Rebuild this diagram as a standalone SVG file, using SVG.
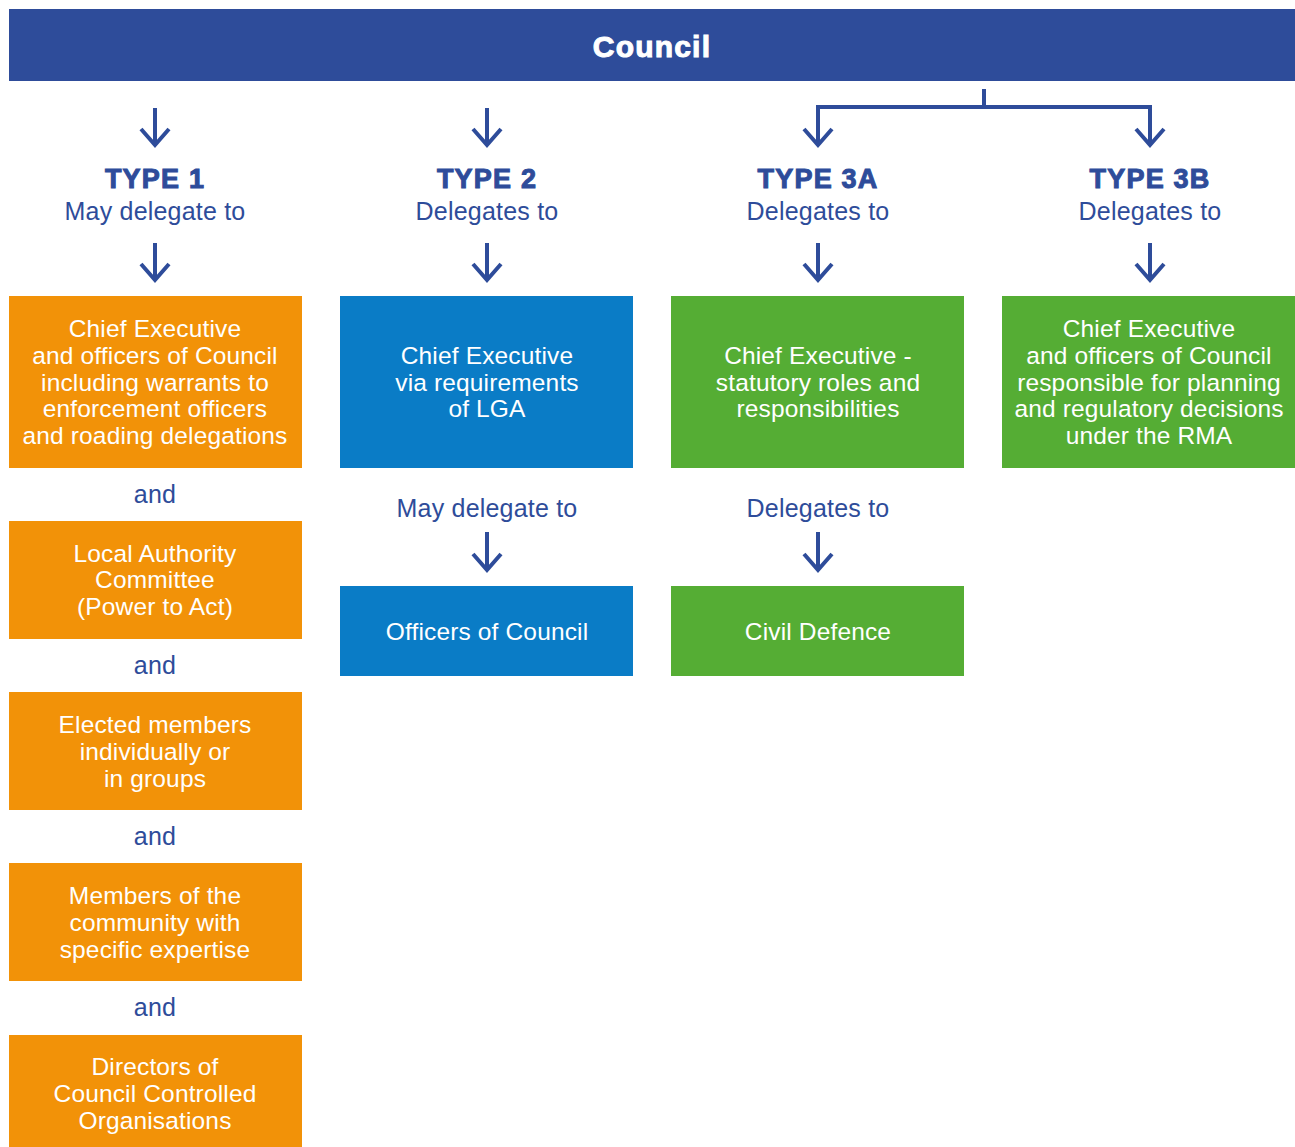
<svg xmlns="http://www.w3.org/2000/svg" width="1295" height="1147" viewBox="0 0 1295 1147">
<style>
.lbl{font-family:"Liberation Sans",Arial,sans-serif;font-size:25px;letter-spacing:0.2px;fill:#2E4C9A;text-anchor:middle}
.typ{font-family:"Liberation Sans",Arial,sans-serif;font-size:27px;font-weight:900;fill:#2E4C9A;stroke:#2E4C9A;stroke-width:1;text-anchor:middle;letter-spacing:1.2px}
.bt{font-family:"Liberation Sans",Arial,sans-serif;font-size:24.5px;letter-spacing:0.15px;fill:#FFFFFF;text-anchor:middle}
.or{fill:#F29208}.bl{fill:#0A7CC6}.gr{fill:#55AD34}
.ln{fill:none;stroke:#2E4C9A;stroke-width:4;stroke-linejoin:miter}
</style>
<defs>
<path id="head" d="M-14,-16 L0,0 L14,-16" class="ln"/>
</defs>
<rect width="1295" height="1147" fill="#FFFFFF"/>
<g id="council">
<rect x="9" y="9" width="1286" height="72" fill="#2E4C9A"/>
<text x="652" y="57" style="font-family:'Liberation Sans',Arial,sans-serif;font-size:30px;font-weight:900;fill:#FFFFFF;stroke:#FFFFFF;stroke-width:1;text-anchor:middle;letter-spacing:1.2px">Council</text>
</g>
<g id="connectors">
<path class="ln" d="M155,108 V144"/><use href="#head" x="155" y="145"/>
<path class="ln" d="M487,108 V144"/><use href="#head" x="487" y="145"/>
<path class="ln" d="M984,89 V107 M818,144 V107 H1150 V144"/>
<use href="#head" x="818" y="145"/><use href="#head" x="1150" y="145"/>
<path class="ln" d="M155,243 V279"/><use href="#head" x="155" y="280"/>
<path class="ln" d="M487,243 V279"/><use href="#head" x="487" y="280"/>
<path class="ln" d="M818,243 V279"/><use href="#head" x="818" y="280"/>
<path class="ln" d="M1150,243 V279"/><use href="#head" x="1150" y="280"/>
<path class="ln" d="M487,532 V569"/><use href="#head" x="487" y="570"/>
<path class="ln" d="M818,532 V569"/><use href="#head" x="818" y="570"/>
</g>
<g id="type1"><text class="typ" x="155" y="188">TYPE 1</text><text class="lbl" x="155" y="220">May delegate to</text></g>
<g id="type2"><text class="typ" x="487" y="188">TYPE 2</text><text class="lbl" x="487" y="220">Delegates to</text></g>
<g id="type3a"><text class="typ" x="818" y="188">TYPE 3A</text><text class="lbl" x="818" y="220">Delegates to</text></g>
<g id="type3b"><text class="typ" x="1150" y="188">TYPE 3B</text><text class="lbl" x="1150" y="220">Delegates to</text></g>
<g id="t1-box1">
<rect class="or" x="9" y="296" width="293" height="172"/>
<text class="bt" x="155" y="337">Chief Executive</text>
<text class="bt" x="155" y="364">and officers of Council</text>
<text class="bt" x="155" y="391">including warrants to</text>
<text class="bt" x="155" y="417">enforcement officers</text>
<text class="bt" x="155" y="444">and roading delegations</text>
</g>
<g id="and1"><text class="lbl" x="155" y="503">and</text></g>
<g id="t1-box2">
<rect class="or" x="9" y="521" width="293" height="118"/>
<text class="bt" x="155" y="562">Local Authority</text>
<text class="bt" x="155" y="588">Committee</text>
<text class="bt" x="155" y="615">(Power to Act)</text>
</g>
<g id="and2"><text class="lbl" x="155" y="674">and</text></g>
<g id="t1-box3">
<rect class="or" x="9" y="692" width="293" height="118"/>
<text class="bt" x="155" y="733">Elected members</text>
<text class="bt" x="155" y="760">individually or</text>
<text class="bt" x="155" y="787">in groups</text>
</g>
<g id="and3"><text class="lbl" x="155" y="845">and</text></g>
<g id="t1-box4">
<rect class="or" x="9" y="863" width="293" height="118"/>
<text class="bt" x="155" y="904">Members of the</text>
<text class="bt" x="155" y="931">community with</text>
<text class="bt" x="155" y="958">specific expertise</text>
</g>
<g id="and4"><text class="lbl" x="155" y="1016">and</text></g>
<g id="t1-box5">
<rect class="or" x="9" y="1035" width="293" height="112"/>
<text class="bt" x="155" y="1075">Directors of</text>
<text class="bt" x="155" y="1102">Council Controlled</text>
<text class="bt" x="155" y="1129">Organisations</text>
</g>
<g id="t2-box1">
<rect class="bl" x="340" y="296" width="293" height="172"/>
<text class="bt" x="487" y="364">Chief Executive</text>
<text class="bt" x="487" y="391">via requirements</text>
<text class="bt" x="487" y="417">of LGA</text>
</g>
<g id="t2-label"><text class="lbl" x="487" y="517">May delegate to</text></g>
<g id="t2-box2">
<rect class="bl" x="340" y="586" width="293" height="90"/>
<text class="bt" x="487" y="640">Officers of Council</text>
</g>
<g id="t3a-box1">
<rect class="gr" x="671" y="296" width="293" height="172"/>
<text class="bt" x="818" y="364">Chief Executive -</text>
<text class="bt" x="818" y="391">statutory roles and</text>
<text class="bt" x="818" y="417">responsibilities</text>
</g>
<g id="t3a-label"><text class="lbl" x="818" y="517">Delegates to</text></g>
<g id="t3a-box2">
<rect class="gr" x="671" y="586" width="293" height="90"/>
<text class="bt" x="818" y="640">Civil Defence</text>
</g>
<g id="t3b-box1">
<rect class="gr" x="1002" y="296" width="293" height="172"/>
<text class="bt" x="1149" y="337">Chief Executive</text>
<text class="bt" x="1149" y="364">and officers of Council</text>
<text class="bt" x="1149" y="391">responsible for planning</text>
<text class="bt" x="1149" y="417">and regulatory decisions</text>
<text class="bt" x="1149" y="444">under the RMA</text>
</g>
</svg>
